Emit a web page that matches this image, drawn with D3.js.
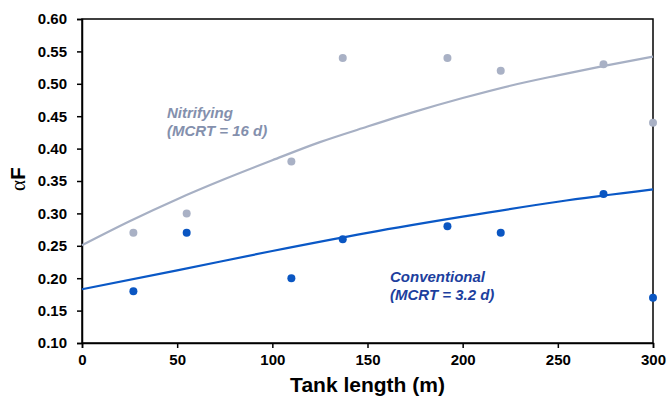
<!DOCTYPE html>
<html>
<head>
<meta charset="utf-8">
<script src="https://cdn.jsdelivr.net/npm/d3@7"></script>
<style>
  body { margin: 0; background: #fff; }
  text { font-family: Arial, "Liberation Sans", sans-serif; }
</style>
</head>
<body>
<div id="chart"></div>
<script>
// measured points
const tankLength = [27, 55, 110, 137, 192, 220, 274, 300];
const nitrifyingAlphaF = [0.27, 0.30, 0.38, 0.54, 0.54, 0.52, 0.53, 0.44];
const conventionalAlphaF = [0.18, 0.27, 0.20, 0.26, 0.28, 0.27, 0.33, 0.17];

// fitted curves
const nitrifyingFitX = [0, 25, 50, 75, 100, 125, 150, 175, 200, 225, 250, 275, 300];
const nitrifyingFitY = [0.251, 0.288, 0.322, 0.353, 0.382, 0.410, 0.434, 0.457, 0.478, 0.497, 0.513, 0.528, 0.542];
const conventionalFitX = [0, 50, 100, 150, 200, 250, 300];
const conventionalFitY = [0.183, 0.212, 0.242, 0.270, 0.295, 0.318, 0.337];

const xTicks = [0, 50, 100, 150, 200, 250, 300];
const yTicks = [0.10, 0.15, 0.20, 0.25, 0.30, 0.35, 0.40, 0.45, 0.50, 0.55, 0.60];

const width = 668, height = 398;
const margin = { top: 19, right: 15, bottom: 55, left: 82 };

const svg = d3.select("#chart")
    .append("svg")
    .attr("width", width)
    .attr("height", height);

const x = d3.scaleLinear()
    .domain([0, 300])
    .range([margin.left, width - margin.right]);

const y = d3.scaleLinear()
    .domain([0.10, 0.60])
    .range([height - margin.bottom, margin.top]);

// frame
svg.append("rect")
    .attr("x", x(0))
    .attr("y", y(0.60))
    .attr("width", x(300) - x(0))
    .attr("height", y(0.10) - y(0.60))
    .attr("fill", "none")
    .attr("stroke", "#000")
    .attr("stroke-width", 1.5);

const xAxis = svg.append("g")
    .attr("transform", `translate(0,${y(0.10)})`)
    .call(d3.axisBottom(x).tickValues(xTicks).tickSize(5).tickPadding(6).tickFormat(d3.format("d")));

const yAxis = svg.append("g")
    .attr("transform", `translate(${x(0)},0)`)
    .call(d3.axisLeft(y).tickValues(yTicks).tickSize(5).tickPadding(10).tickFormat(d3.format(".2f")));

[xAxis, yAxis].forEach(g => {
    g.select(".domain").attr("stroke", "#000").attr("stroke-width", 1.5);
    g.selectAll(".tick line").attr("stroke", "#000").attr("stroke-width", 1.5);
    g.selectAll(".tick text")
        .attr("fill", "#000")
        .style("font-size", "15px")
        .style("font-weight", "bold")
        .style("font-family", "Arial, 'Liberation Sans', sans-serif");
});

// axis titles
svg.append("text")
    .attr("x", (x(0) + x(300)) / 2)
    .attr("y", 392)
    .attr("text-anchor", "middle")
    .style("font-size", "21px")
    .style("font-weight", "bold")
    .text("Tank length (m)");

const yTitle = svg.append("text")
    .attr("transform", `translate(25,${179}) rotate(-90)`)
    .attr("text-anchor", "middle")
    .style("font-size", "21px");
yTitle.append("tspan")
    .style("font-family", "'Liberation Serif', 'DejaVu Serif', serif")
    .text("α");
yTitle.append("tspan")
    .style("font-weight", "bold")
    .text("F");

const line = d3.line()
    .x(d => x(d[0]))
    .y(d => y(d[1]))
    .curve(d3.curveMonotoneX);

const series = [
    { fx: nitrifyingFitX, fy: nitrifyingFitY, px: tankLength, py: nitrifyingAlphaF, line: "#a7b0c4", dot: "#a9b1c5" },
    { fx: conventionalFitX, fy: conventionalFitY, px: tankLength, py: conventionalAlphaF, line: "#0a58c6", dot: "#0a56c2" }
];

series.forEach(s => {
    svg.append("path")
        .datum(d3.zip(s.fx, s.fy))
        .attr("d", line)
        .attr("fill", "none")
        .attr("stroke", s.line)
        .attr("stroke-width", 2.2);

    svg.selectAll(null)
        .data(d3.zip(s.px, s.py))
        .join("circle")
        .attr("cx", d => x(d[0]))
        .attr("cy", d => y(d[1]))
        .attr("r", 4)
        .attr("fill", s.dot);
});

// series labels
function label(tx, ty, lines, color) {
    const t = svg.append("text")
        .attr("fill", color)
        .style("font-size", "15px")
        .style("font-weight", "bold")
        .style("font-style", "italic");
    lines.forEach((s, i) => {
        t.append("tspan").attr("x", tx).attr("y", ty + i * 18).text(s);
    });
}
label(167, 118, ["Nitrifying", "(MCRT = 16 d)"], "#8490ad");
label(390, 282, ["Conventional", "(MCRT = 3.2 d)"], "#1d3f9e");
</script>
</body>
</html>
